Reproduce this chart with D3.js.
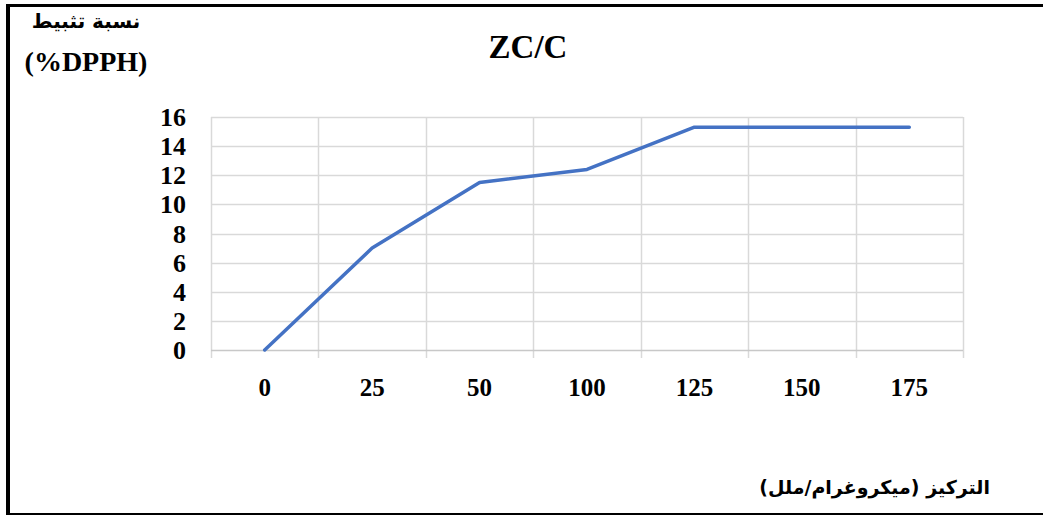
<!DOCTYPE html>
<html lang="ar">
<head>
<meta charset="UTF-8">
<title>ZC/C</title>
<script src="https://d3js.org/d3.v7.min.js"></script>
<style>
    body, html { margin: 0; padding: 0; background: #fff; overflow: hidden; }
    svg { display: block; }
    .num { font-family: 'Liberation Serif', 'Times New Roman', serif; font-weight: bold; fill: #000; }
    .ar { font-family: 'DejaVu Sans', sans-serif; font-weight: bold; fill: #000; }
</style>
</head>
<body>
<svg id="chart" width="1043" height="517"></svg>
<script>
// chart data
const categories = ["0", "25", "50", "100", "125", "150", "175"];
const inhibition = [0, 7, 11.5, 12.4, 15.3, 15.3, 15.3];
const yTicks = [0, 2, 4, 6, 8, 10, 12, 14, 16];

const svg = d3.select("#chart");
const W = 1043, H = 517;
const plot = {left: 211, right: 963, top: 117, bottom: 350};

const x = d3.scaleBand().domain(categories).range([plot.left, plot.right]);
const y = d3.scaleLinear().domain([0, 16]).range([plot.bottom, plot.top]);

// frame
svg.append("line").attr("x1", 8).attr("x2", 8).attr("y1", 4).attr("y2", 515)
    .attr("stroke", "#000").attr("stroke-width", 4);
svg.append("line").attr("x1", 6).attr("x2", W).attr("y1", 5.5).attr("y2", 5.5)
    .attr("stroke", "#000").attr("stroke-width", 3);
svg.append("line").attr("x1", 6).attr("x2", W).attr("y1", 514).attr("y2", 514)
    .attr("stroke", "#000").attr("stroke-width", 2);

// horizontal gridlines
svg.append("g").selectAll("line").data(yTicks.filter(d => d > 0)).join("line")
    .attr("x1", plot.left).attr("x2", plot.right)
    .attr("y1", d => Math.round(y(d)) + 0.5).attr("y2", d => Math.round(y(d)) + 0.5)
    .attr("stroke", "#d9d9d9").attr("stroke-width", 1.5);

// vertical gridlines at band edges
const edges = categories.map(c => x(c)).concat([plot.right]);
svg.append("g").selectAll("line").data(edges).join("line")
    .attr("x1", d => Math.round(d) + 0.5).attr("x2", d => Math.round(d) + 0.5)
    .attr("y1", plot.top).attr("y2", plot.bottom + 8)
    .attr("stroke", "#d9d9d9").attr("stroke-width", 1.5);

// x axis line
svg.append("line").attr("x1", plot.left).attr("x2", plot.right)
    .attr("y1", plot.bottom + 0.5).attr("y2", plot.bottom + 0.5)
    .attr("stroke", "#c8c8c8").attr("stroke-width", 1.5);

// y tick labels
svg.append("g").selectAll("text").data(yTicks).join("text")
    .attr("class", "num")
    .attr("x", 186).attr("y", d => y(d) + 9)
    .attr("text-anchor", "end").attr("font-size", 26)
    .text(d => d);

// x tick labels
svg.append("g").selectAll("text").data(categories).join("text")
    .attr("class", "num")
    .attr("x", d => x(d) + x.bandwidth() / 2).attr("y", 396)
    .attr("text-anchor", "middle").attr("font-size", 25)
    .text(d => d);

// line
const line = d3.line()
    .x((d, i) => x(categories[i]) + x.bandwidth() / 2)
    .y(d => y(d));
svg.append("path").datum(inhibition)
    .attr("d", line)
    .attr("fill", "none").attr("stroke", "#4472c4")
    .attr("stroke-width", 3.5).attr("stroke-linejoin", "round").attr("stroke-linecap", "round");

// title
svg.append("text").attr("class", "num")
    .attr("x", 528).attr("y", 58).attr("text-anchor", "middle")
    .attr("font-size", 33).text("ZC/C");

// y axis title
svg.append("text").attr("class", "ar")
    .attr("x", 86).attr("y", 28).attr("text-anchor", "middle")
    .attr("font-size", 20).text("نسبة تثبيط");
svg.append("text").attr("class", "num")
    .attr("x", 86).attr("y", 71).attr("text-anchor", "middle")
    .attr("font-size", 28).text("(%DPPH)");

// x axis title
svg.append("text").attr("class", "ar")
    .attr("x", 990).attr("y", 494).attr("text-anchor", "start")
    .attr("direction", "rtl")
    .attr("font-size", 19).text("التركيز (ميكروغرام/ملل)");
</script>
</body>
</html>
